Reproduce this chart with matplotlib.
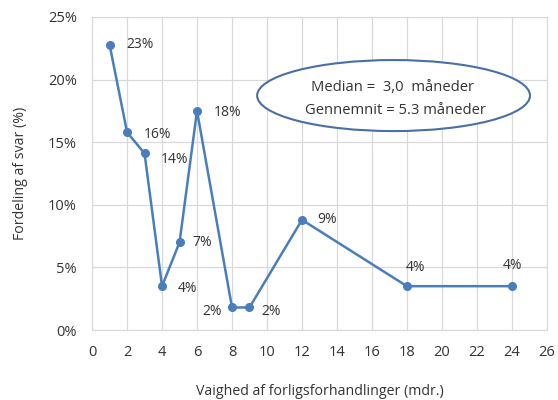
import matplotlib.pyplot as plt
from matplotlib.patches import Ellipse
from matplotlib.ticker import FuncFormatter

# Data
months = [1, 2, 3, 4, 5, 6, 8, 9, 12, 18, 24]
share = [22.8, 15.8, 14.1, 3.5, 7.0, 17.5, 1.8, 1.8, 8.8, 3.5, 3.5]
labels = ['23%', '16%', '14%', '4%', '7%', '18%', '2%', '2%', '9%', '4%', '4%']
# label offsets in pixels (dx, dy)
offsets = [(17, 0), (17, -2), (16, -6), (16, -2), (13, 0), (17, -2),
           (-10, -4), (12, -4), (15, 0), (-1, 19), (-9, 21)]

plt.rcParams['font.family'] = ['Open Sans', 'DejaVu Sans']
color = '#4a7ebb'
txt = '#333333'
px = 72 / 100  # points per pixel

fig = plt.figure(figsize=(5.58, 4.0), dpi=100)
ax = fig.add_axes([0.165, 0.175, 0.815, 0.7825])

ax.plot(months, share, color=color, lw=1.8, marker='o', ms=5.5, zorder=3)
for x, y, t, (dx, dy) in zip(months, share, labels, offsets):
    ha = 'right' if dx < 0 and dy == -4 else 'left'
    ax.annotate(t, (x, y), xytext=(dx * px, dy * px), textcoords='offset points',
                ha=ha, va='center', fontsize=10, color=txt)

ax.set_xlim(0, 26)
ax.set_ylim(0, 25)
ax.set_xticks(range(0, 27, 2))
ax.set_yticks(range(0, 26, 5))
ax.yaxis.set_major_formatter(FuncFormatter(lambda v, p: f'{v:.0f}%'))
ax.grid(color='#d9d9d9', lw=0.9)
ax.set_axisbelow(True)
for s in ax.spines.values():
    s.set_color('#d9d9d9')
ax.tick_params(length=0, labelsize=10.5, colors=txt)
ax.tick_params(axis='y', pad=11)
ax.tick_params(axis='x', pad=11)

ax.set_xlabel('Vaighed af forligsforhandlinger (mdr.)', fontsize=10.2,
              color=txt, labelpad=17)
ax.set_ylabel('Fordeling af svar (%)', fontsize=10.2, color=txt, labelpad=14)

ell = Ellipse((0.663, 0.749), 0.600, 0.227, transform=ax.transAxes,
              facecolor='white', edgecolor='#4a6fa5', lw=1.5, zorder=4)
ax.add_patch(ell)
ax.text(0.660, 0.776, 'Median =  3,0  måneder', transform=ax.transAxes,
        ha='center', va='center', fontsize=10.6, color=txt, zorder=5)
ax.text(0.666, 0.700, 'Gennemnit = 5.3 måneder', transform=ax.transAxes,
        ha='center', va='center', fontsize=10.6, color=txt, zorder=5)

fig.savefig('out.png', dpi=100, facecolor='white')
